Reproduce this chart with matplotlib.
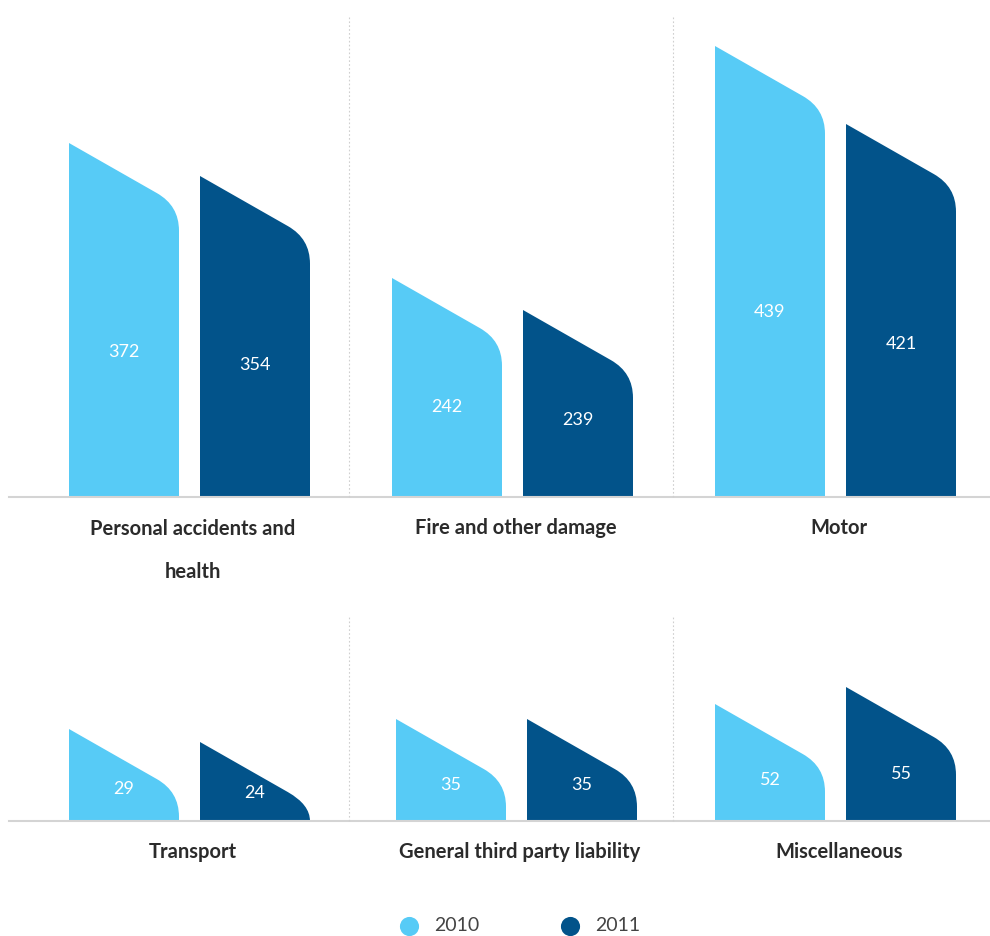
import matplotlib.pyplot as plt
from matplotlib.path import Path
from matplotlib.patches import PathPatch

# Data
top_categories = ["Personal accidents and\nhealth", "Fire and other damage", "Motor"]
bottom_categories = ["Transport", "General third party liability", "Miscellaneous"]

top_values_2010 = [372, 242, 439]
top_values_2011 = [354, 239, 421]
bottom_values_2010 = [29, 35, 52]
bottom_values_2011 = [24, 35, 55]

# bar heights as drawn in the picture (not proportional to the labels)
top_heights_2010 = [354, 219, 451]
top_heights_2011 = [321, 187, 373]
bottom_heights_2010 = [92, 102, 117]
bottom_heights_2011 = [79, 102, 134]

years = ["2010", "2011"]
colors = ["#57CBF6", "#02538A"]

plt.rcParams['font.family'] = ['Lato', 'DejaVu Sans']

W, H = 990, 936
fig = plt.figure(figsize=(W / 100, H / 100), dpi=100)


# flag shaped bar: vertical left edge, slanted top, rounded into right edge
def flagBar(ax, x0, width, h, color):
    slope = 0.57
    x1 = x0 + width
    xs = x0 + 0.8 * width
    ys = max(h - slope * (xs - x0), 0)
    yc = max(h - slope * width, 0)
    ye = max(yc - 25, 0)
    verts = [(x0, 0), (x0, h), (xs, ys), (x1, yc), (x1, ye), (x1, 0), (x0, 0)]
    codes = [Path.MOVETO, Path.LINETO, Path.LINETO, Path.CURVE3, Path.CURVE3,
             Path.LINETO, Path.CLOSEPOLY]
    ax.add_patch(PathPatch(Path(verts, codes), facecolor=color, edgecolor='none'))


def drawPanel(base_px, top_px, cats, h10, h11, v10, v11, centers, label_frac, sep_top):
    ax = fig.add_axes([0, (H - base_px) / H, 1, (base_px - top_px) / H])
    ax.set_xlim(0, W)
    ax.set_ylim(0, base_px - top_px)
    ax.axis('off')
    bw = 110
    for i, c in enumerate(centers):
        for j, (hh, vv) in enumerate([(h10[i], v10[i]), (h11[i], v11[i])]):
            x0 = c - 120 + j * 131
            flagBar(ax, x0, bw, hh, colors[j])
            ax.text(x0 + bw / 2, hh * label_frac, str(vv), color='white',
                    fontsize=13, fontweight='normal', ha='center', va='center')
    # baseline
    ax.plot([9, W], [0, 0], color='#d4d4d4', lw=1.5, clip_on=False)
    # separators
    for sx in [349, 673]:
        ax.plot([sx, sx], [0, base_px - sep_top], color='#cfcfcf', lw=0.8,
                ls=(0, (1.5, 2)), clip_on=False)
    # category labels
    for i, c in enumerate(centers):
        t = fig.text((c + 4) / W, 1 - (base_px + 31) / H, cats[i], ha='center',
                     va='center', fontsize=14.5, fontweight='bold', color='#2b2b2b',
                     linespacing=2.45)
        if "\n" in cats[i]:
            t.set_va('top')
            t.set_y(1 - (base_px + 22) / H)
    return ax


drawPanel(497, 15, top_categories, top_heights_2010, top_heights_2011,
          top_values_2010, top_values_2011, [189, 512, 835], 0.41, 15)
drawPanel(821, 600, bottom_categories, bottom_heights_2010, bottom_heights_2011,
          bottom_values_2010, bottom_values_2011, [189, 516, 835], 0.35, 615)

# legend drawn by hand in a pixel axis
lax = fig.add_axes([0, 0, 1, 40 / H])
lax.set_xlim(0, W)
lax.set_ylim(H - 40, H)
lax.invert_yaxis()
lax.axis('off')
for k, (yr, c) in enumerate(zip(years, colors)):
    cx = 409 + 161 * k
    lax.scatter([cx], [926], s=190, color=c, linewidths=0, clip_on=False)
    lax.text(cx + 25, 926, yr, fontsize=14, color='#444444', ha='left', va='center')

fig.savefig("out.png", dpi=100)
